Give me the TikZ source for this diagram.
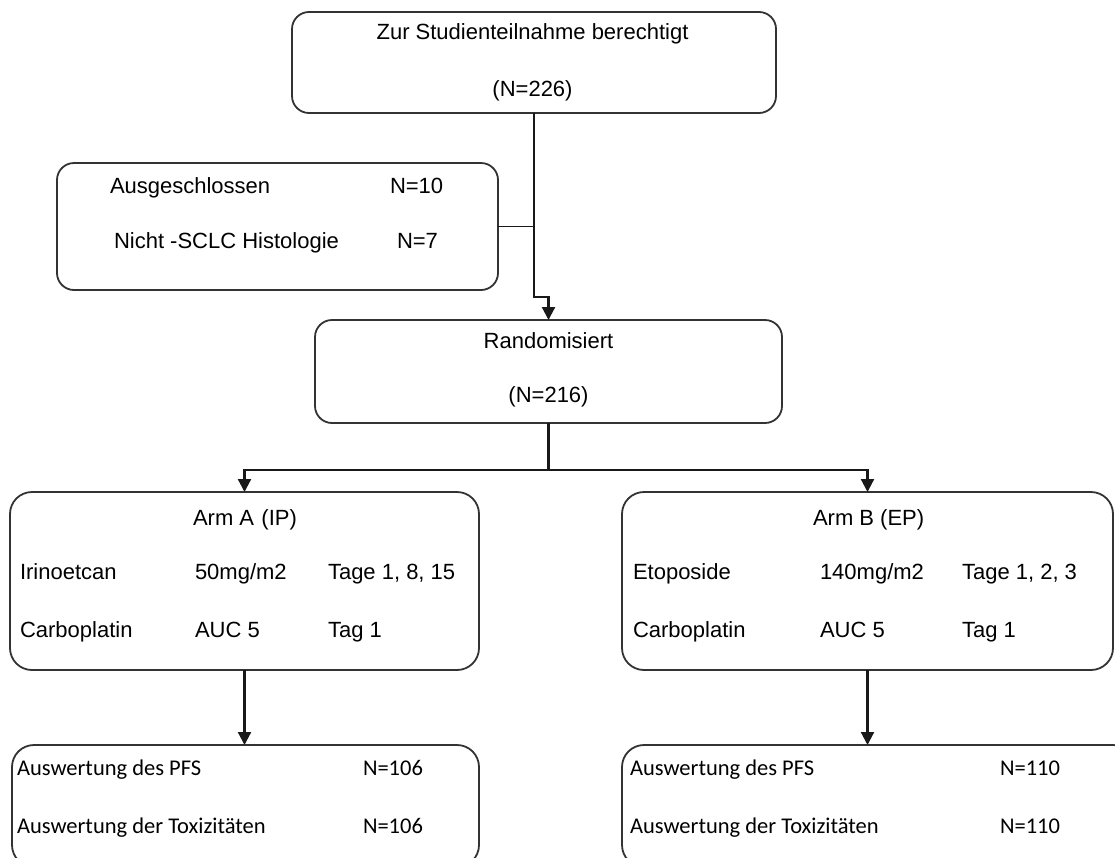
\documentclass[tikz,border=0pt]{standalone}
\usepackage{fontspec}
\setmainfont{Liberation Sans}
\newfontfamily\calfont{Carlito}
\usetikzlibrary{arrows.meta}
\begin{document}
\begin{tikzpicture}[x=1pt,y=-1pt,
  box/.style={draw=black!80,line width=1.8pt,rounded corners=17pt,rectangle,inner sep=0pt,outer sep=0pt},
  txt/.style={inner sep=0pt,outer sep=0pt,font=\fontsize{22}{26}\selectfont},
  ctxt/.style={inner sep=0pt,outer sep=0pt,font=\calfont\fontsize{22.5}{26}\selectfont},
  conn/.style={draw=black!90,line width=2.2pt},
  arr/.style={conn,-{Triangle[width=13pt,length=13pt]}}
]
\useasboundingbox (0,0) rectangle (1115,857);
\clip (0,0) rectangle (1115,857);
% boxes
\node[box,minimum width=484pt,minimum height=101pt] (top) at (534,62.5) {};
\node[box,minimum width=441pt,minimum height=127pt] (excl) at (277.5,226.5) {};
\node[box,minimum width=467pt,minimum height=103pt] (rand) at (548.5,371.5) {};
\node[box,minimum width=469pt,minimum height=178pt,rounded corners=22pt] (armA) at (244.5,581) {};
\node[box,minimum width=491pt,minimum height=178pt,rounded corners=22pt] (armB) at (867.5,581) {};
\node[box,minimum width=467pt,minimum height=122pt,rounded corners=22pt] (botA) at (245.5,806) {};
\node[box,minimum width=513pt,minimum height=122pt,rounded corners=22pt] (botB) at (878.5,806) {};
% texts
\node[txt,anchor=base] (t1) at (532.5,39) {Zur Studienteilnahme berechtigt};
\node[txt,anchor=base] (t2) at (532.5,96) {(N=226)};
\node[txt,anchor=base west] (e1) at (110,193) {Ausgeschlossen};
\node[txt,anchor=base west] (e2) at (390,193) {N=10};
\node[txt,anchor=base west] (e3) at (114,248) {Nicht -SCLC Histologie};
\node[txt,anchor=base west] (e4) at (397,248) {N=7};
\node[txt,anchor=base] (r1) at (548.5,348) {Randomisiert};
\node[txt,anchor=base] (r2) at (548.5,402) {(N=216)};
\node[txt,anchor=base west] (a0) at (193,525) {Arm A\,\,(IP)};
\node[txt,anchor=base west] (a1) at (20,579) {Irinoetcan};
\node[txt,anchor=base west] (a2) at (195,579) {50mg/m2};
\node[txt,anchor=base west] (a3) at (328,579) {Tage 1, 8, 15};
\node[txt,anchor=base west] (a4) at (20,637) {Carboplatin};
\node[txt,anchor=base west] (a5) at (195,637) {AUC 5};
\node[txt,anchor=base west] (a6) at (328,637) {Tag 1};
\node[txt,anchor=base west] (b0) at (813,525) {Arm B (EP)};
\node[txt,anchor=base west] (b1) at (633,579) {Etoposide};
\node[txt,anchor=base west] (b2) at (820,579) {140mg/m2};
\node[txt,anchor=base west] (b3) at (962,579) {Tage 1, 2, 3};
\node[txt,anchor=base west] (b4) at (633,637) {Carboplatin};
\node[txt,anchor=base west] (b5) at (820,637) {AUC 5};
\node[txt,anchor=base west] (b6) at (962,637) {Tag 1};
\node[ctxt,anchor=base west] (c1) at (17,775) {Auswertung des PFS};
\node[ctxt,anchor=base west] (c2) at (363,775) {N=106};
\node[ctxt,anchor=base west] (c3) at (17,833) {Auswertung der Toxizitäten};
\node[ctxt,anchor=base west] (c4) at (363,833) {N=106};
\node[ctxt,anchor=base west] (d1) at (630,775) {Auswertung des PFS};
\node[ctxt,anchor=base west] (d2) at (1000,775) {N=110};
\node[ctxt,anchor=base west] (d3) at (630,833) {Auswertung der Toxizitäten};
\node[ctxt,anchor=base west] (d4) at (1000,833) {N=110};
% connectors
\coordinate (bend) at (534,297);
\coordinate (split) at (548.5,470);
\draw[arr] (top.south) -- (bend) -- (bend -| rand.north) -- (rand.north);
\draw[conn,line width=1.6pt] (excl.east) -- (excl.east -| top.south);
\draw[conn] (rand.south) -- (split);
\draw[arr] (split) -| (armA.north);
\draw[arr] (split) -| (armB.north);
\draw[arr] (armA.south) -- (botA.north -| armA.south);
\draw[arr] (armB.south) -- (botB.north -| armB.south);
\end{tikzpicture}
\end{document}
